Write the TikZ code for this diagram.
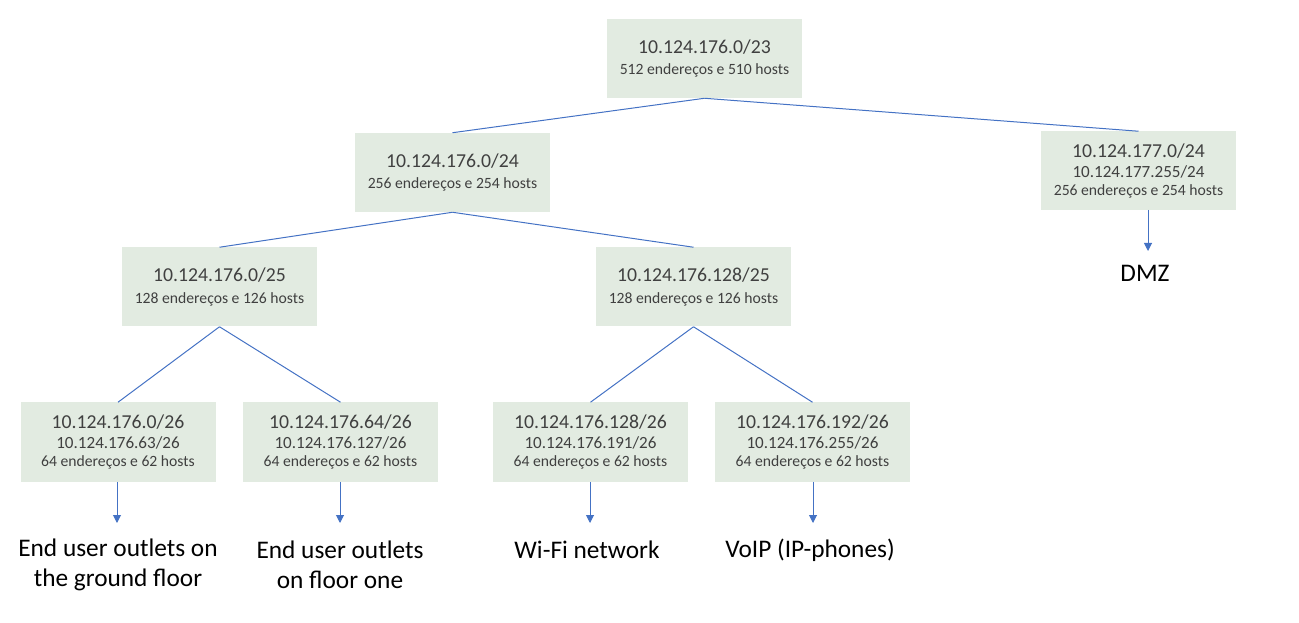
\documentclass[tikz,border=0pt]{standalone}
\usepackage{fontspec}
\setmainfont{Carlito}
\usetikzlibrary{arrows.meta}
\definecolor{boxfill}{HTML}{E2EBE1}
\definecolor{boxtext}{HTML}{404040}
\definecolor{linkblue}{HTML}{4472C4}
\newcommand{\ttl}[1]{{\fontsize{14.8}{16}\selectfont #1}}
\newcommand{\sbt}[1]{{\fontsize{12.8}{14}\selectfont #1}}
\newcommand{\cnt}[1]{{\fontsize{11.75}{13}\selectfont #1}}
\tikzset{
  netbox/.style={fill=boxfill, text=boxtext, draw=none, align=center,
    minimum width=146.25pt, minimum height=59.25pt, inner sep=0pt},
  link/.style={draw=linkblue, line width=0.75pt},
  flow/.style={draw=linkblue, line width=0.75pt, -{Triangle[width=6pt,length=6pt]}},
  usage/.style={align=center, font=\fontsize{19}{22.5}\selectfont, text=black, inner sep=0pt}
}
\begin{document}
\begin{tikzpicture}[x=0.75pt,y=-0.75pt]
\useasboundingbox (0,0) rectangle (1299,623);
% boxes
\node[netbox] (root) at (704.5,58.5) {\ttl{10.124.176.0/23}\\[4pt]\cnt{512 endereços e 510 hosts}};
\node[netbox] (a) at (452.5,172.5) {\ttl{10.124.176.0/24}\\[4pt]\cnt{256 endereços e 254 hosts}};
\node[netbox] (b) at (1138.5,171) {\ttl{10.124.177.0/24}\\[3pt]\sbt{10.124.177.255/24}\\[2pt]\cnt{256 endereços e 254 hosts}};
\node[netbox] (aa) at (219.5,287) {\ttl{10.124.176.0/25}\\[4pt]\cnt{128 endereços e 126 hosts}};
\node[netbox] (ab) at (693.5,287) {\ttl{10.124.176.128/25}\\[4pt]\cnt{128 endereços e 126 hosts}};
\node[netbox] (c1) at (118,442) {\ttl{10.124.176.0/26}\\[3pt]\sbt{10.124.176.63/26}\\[2pt]\cnt{64 endereços e 62 hosts}};
\node[netbox] (c2) at (340.5,442) {\ttl{10.124.176.64/26}\\[3pt]\sbt{10.124.176.127/26}\\[2pt]\cnt{64 endereços e 62 hosts}};
\node[netbox] (c3) at (590.5,442) {\ttl{10.124.176.128/26}\\[3pt]\sbt{10.124.176.191/26}\\[2pt]\cnt{64 endereços e 62 hosts}};
\node[netbox] (c4) at (812.5,442) {\ttl{10.124.176.192/26}\\[3pt]\sbt{10.124.176.255/26}\\[2pt]\cnt{64 endereços e 62 hosts}};
% usage labels
\node[usage] (dmz) at (1145,273) {DMZ};
\node[usage] (u1) at (118,565) {End user outlets on\\the ground floor};
\node[usage] (u2) at (340,565) {End user outlets\\on floor one};
\node[usage] (u3) at (587,550) {Wi-Fi network};
\node[usage] (u4) at (810,550) {VoIP (IP-phones)};
% tree links
\draw[link] (root.south) -- (a.north);
\draw[link] (root.south) -- (b.north);
\draw[link] (a.south) -- (aa.north);
\draw[link] (a.south) -- (ab.north);
\draw[link] (aa.south) -- (c1.north);
\draw[link] (aa.south) -- (c2.north);
\draw[link] (ab.south) -- (c3.north);
\draw[link] (ab.south) -- (c4.north);
% arrows
\coordinate (bs) at (1148,210);
\coordinate (bt) at (1148,251);
\draw[flow] (bs) -- (bt);
\coordinate (t1) at (117,523);
\coordinate (t2) at (340,523);
\coordinate (t3) at (590,523);
\coordinate (t4) at (813,523);
\draw[flow] (c1.south -| t1) -- (t1);
\draw[flow] (c2.south -| t2) -- (t2);
\draw[flow] (c3.south -| t3) -- (t3);
\draw[flow] (c4.south -| t4) -- (t4);
\end{tikzpicture}
\end{document}
